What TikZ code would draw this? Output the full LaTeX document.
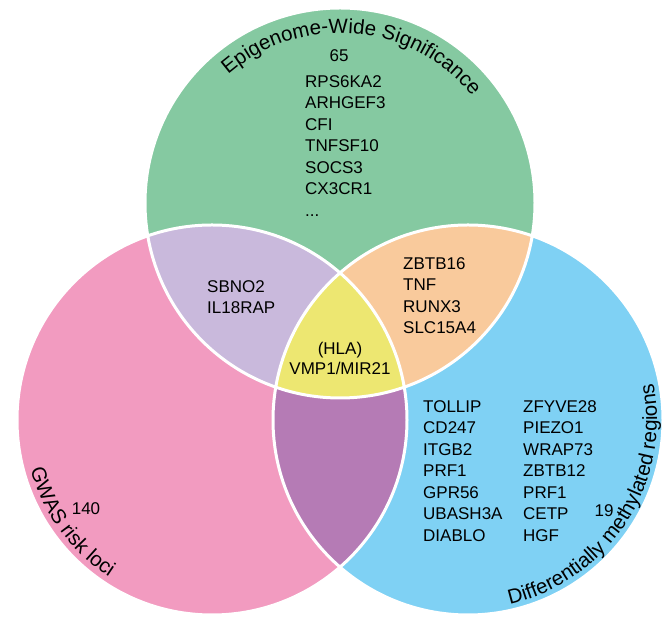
\documentclass[tikz,border=0pt]{standalone}
\usepackage{fontspec}
\setmainfont{Liberation Sans}
\usetikzlibrary{decorations.text}

\definecolor{epigreen}{HTML}{85C9A1}
\definecolor{gwaspink}{HTML}{F29BC0}
\definecolor{dmrblue}{HTML}{7FD1F4}
\definecolor{lilac}{HTML}{C9B9DC}
\definecolor{peach}{HTML}{F9CA9C}
\definecolor{lemon}{HTML}{EDE771}
\definecolor{plum}{HTML}{B57BB5}

\newcommand\ttlfont{\fontsize{20.5}{24}\selectfont}
\newcommand\rad{195pt}

\begin{document}
\begin{tikzpicture}[x=1pt,y=1pt]
  \tikzstyle{gene}=[inner sep=0pt, anchor=north west, align=left, font=\fontsize{17}{21.5}\selectfont]
  \tikzstyle{tally}=[inner sep=0pt, font=\fontsize{17}{20}\selectfont]
  \useasboundingbox (0,0) rectangle (664,617);

  % circle centres
  \coordinate (G) at (340,414);
  \coordinate (P) at (212,197);
  \coordinate (B) at (468,197);

  % sets
  \fill[epigreen] (G) circle[radius=\rad];
  \fill[gwaspink] (P) circle[radius=\rad];
  \fill[dmrblue] (B) circle[radius=\rad];

  % overlaps
  \begin{scope}
    \clip (P) circle[radius=\rad];
    \fill[plum] (B) circle[radius=\rad];
  \end{scope}
  \begin{scope}
    \clip (G) circle[radius=\rad];
    \fill[lilac] (P) circle[radius=\rad];
    \fill[peach] (B) circle[radius=\rad];
    \clip (P) circle[radius=\rad];
    \fill[lemon] (B) circle[radius=\rad];
  \end{scope}

  \foreach \c in {G,P,B}
    \draw[white, line width=3pt] (\c) circle[radius=\rad];

  % set titles
  \path[decorate, shift={(G)}, decoration={text along path, text align=center,
      text={|\ttlfont|Epigenome-Wide Significance}}]
    (150:170pt) arc[start angle=150, end angle=20, radius=170pt];
  \path[decorate, shift={(P)}, decoration={text along path, text align=center,
      text={|\ttlfont|GWAS risk loci}}]
    (186:188pt) arc[start angle=186, end angle=246, radius=188pt];
  \path[decorate, shift={(B)}, decoration={text along path, text align=center,
      text={|\ttlfont|Differentially methylated regions}}]
    (272:189pt) arc[start angle=272, end angle=382, radius=189pt];

  % counts
  \foreach \name/\txt/\x/\y in {n-epi/65/339/561, n-gwas/140/86/108, n-dmr/19/604/106}
    \node[tally] (\name) at (\x,\y) {\txt};

  % gene lists
  \foreach \name/\txt/\x/\y in {
      epi/{RPS6KA2\\ARHGEF3\\CFI\\TNFSF10\\SOCS3\\CX3CR1\\...}/305/542,
      epi-gwas/{SBNO2\\IL18RAP}/207/337,
      epi-dmr/{ZBTB16\\TNF\\RUNX3\\SLC15A4}/403/360,
      dmr-a/{TOLLIP\\CD247\\ITGB2\\PRF1\\GPR56\\UBASH3A\\DIABLO}/423/217,
      dmr-b/{ZFYVE28\\PIEZO1\\WRAP73\\ZBTB12\\PRF1\\CETP\\HGF}/523/217}
    \node[gene] (\name) at (\x,\y) {\txt};

  \node[tally, align=center] (all) at (340,259) {(HLA)\\VMP1/MIR21};
\end{tikzpicture}
\end{document}
